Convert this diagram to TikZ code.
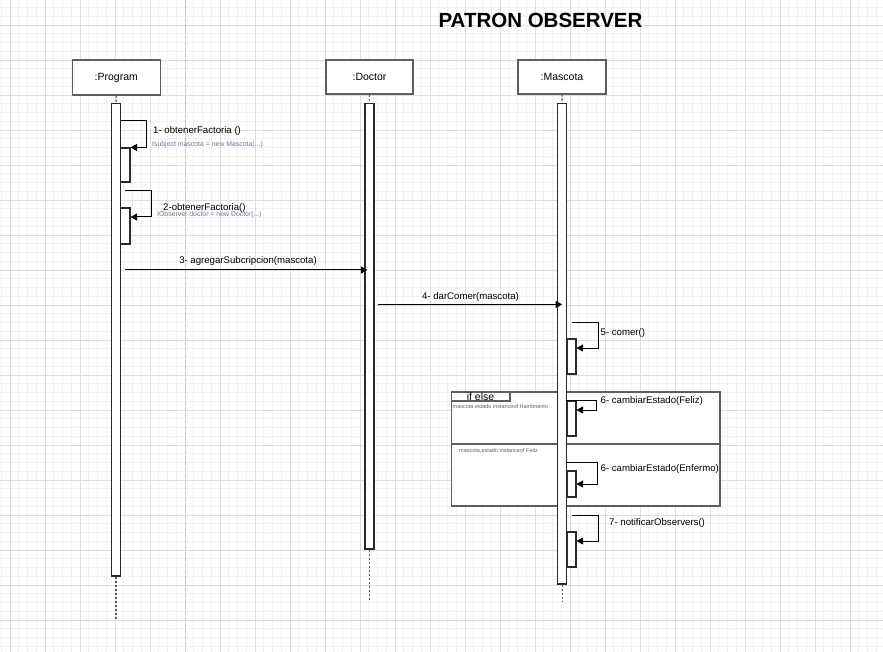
\documentclass[tikz,border=0pt]{standalone}
\usepackage{fontspec}
\setmainfont{Liberation Sans}
\usetikzlibrary{arrows.meta}
\definecolor{gridminor}{HTML}{F2F2F2}
\definecolor{gridmajor}{HTML}{DEDEDE}
\definecolor{boxline}{HTML}{5E5E5E}
\definecolor{actline}{HTML}{2A2A2A}
\definecolor{sublab}{HTML}{7D6C9C}
\definecolor{fragtext}{HTML}{606060}
\definecolor{pagebreak}{HTML}{C4C4C4}
\begin{document}
\begin{tikzpicture}[x=1pt,y=-1pt,
  lbox/.style={draw=boxline,line width=1.4pt,fill=white,minimum width=88pt,minimum height=35pt,inner sep=0pt,font=\fontsize{10.5}{12}\selectfont},
  act/.style={draw=actline,line width=1.1pt,fill=white,minimum width=9pt,inner sep=0pt},
  life/.style={draw=boxline,line width=1.3pt,dash pattern=on 2pt off 2pt},
  msg/.style={draw=black,line width=1pt,-{Triangle[length=6.5pt,width=7pt]}},
  lab/.style={inner sep=0pt,font=\fontsize{9.625}{11}\selectfont},
  sub/.style={inner sep=0pt,text=sublab,font=\fontsize{6.9}{8}\selectfont},
  fragtxt/.style={inner sep=0pt,text=fragtext,font=\fontsize{5.5}{6.5}\selectfont},
  fragbox/.style={draw=boxline,line width=1.3pt,fill=white,inner sep=0pt}
]
\useasboundingbox (0,0) rectangle (883,652);
\fill[white] (0,0) rectangle (883,652);
% grid
\foreach \i in {-2,...,102} {
  \draw[gridminor,line width=0.7pt] ({10+8.75*\i},0) -- ({10+8.75*\i},652);
}
\foreach \i in {-3,...,75} {
  \draw[gridminor,line width=0.7pt] (0,{25+8.75*\i}) -- (883,{25+8.75*\i});
}
\foreach \i in {-1,...,25} {
  \draw[gridmajor,line width=0.9pt] ({10+35*\i},0) -- ({10+35*\i},652);
}
\foreach \i in {-1,...,18} {
  \draw[gridmajor,line width=0.9pt] (0,{25+35*\i}) -- (883,{25+35*\i});
}
% page break
\draw[pagebreak,line width=1pt,dash pattern=on 3pt off 3pt] (185.7,0) -- (185.7,652);

% title
\node[inner sep=0pt,font=\fontsize{20.5}{24}\selectfont\bfseries] (title) at (540.5,20.5) {PATRON OBSERVER};

% combined fragment
\node[fragbox,minimum width=268.5pt,minimum height=114pt] (alt) at (585.75,449) {};
\draw[boxline,line width=1.3pt] (alt.west |- 0,444) -- (alt.east |- 0,444);
\node[draw=boxline,line width=1.3pt,inner sep=0pt,minimum width=58.5pt,minimum height=9pt] (tab) at (480.75,396.5) {};
\node[inner sep=0pt,font=\fontsize{10.5}{12}\selectfont] (tabtxt) at (480.5,396.5) {if else};
\node[fragtxt,anchor=west] (g1) at (452.5,407) {mascota.estado instanceof Hambriento};
\node[fragtxt,anchor=west] (g2) at (459,450.5) {mascota.estado instanceof Feliz};

% lifeline heads
\node[lbox] (prog) at (116.3,77.5) {:Program};
\node[lbox,minimum width=87pt,minimum height=34pt] (doc) at (369.5,77) {:Doctor};
\node[lbox,minimum height=34pt] (masc) at (562,77) {:Mascota};

% activations
\node[act,minimum height=472.5pt] (pa) at (116.1,339.75) {};
\node[act,minimum height=445.5pt] (da) at (369.5,326.25) {};
\node[act,minimum height=480.5pt] (ma) at (562.2,343.75) {};

\coordinate (pend) at (116.1,619);
\coordinate (dend) at (369.5,601);
\coordinate (mend) at (562.2,601);
\draw[life] (prog.south) -- (pa.north);
\draw[life] (doc.south) -- (da.north);
\draw[life] (masc.south) -- (ma.north);
\draw[life] (pa.south) -- (pend);
\draw[life] (da.south) -- (dend);
\draw[life] (ma.south) -- (mend);

% nested activations
\node[act,minimum width=9.5pt,minimum height=34pt] (p1) at (125.25,165) {};
\node[act,minimum width=9.5pt,minimum height=36pt] (p2) at (125.25,226) {};
\node[act,minimum height=35pt] (m5) at (571.5,356.5) {};
\node[act,minimum height=35pt] (m6a) at (571.5,418.5) {};
\node[act,minimum height=26pt] (m6b) at (571.5,484) {};
\node[act,minimum height=35pt] (m7) at (571.5,549.5) {};

% self calls
\draw[msg] (pa.east |- 0,121) -- ++(25.5,0) |- (p1.north east);
\draw[msg] (p2.center |- 0,191) -- ++(26,0) |- (p2.east |- 0,217);
\draw[msg] (m5.center |- 0,322) -- ++(26.5,0) |- (m5.east |- 0,348);
\draw[msg] (m6a.north west) -- ++(30,0) |- (m6a.east |- 0,410);
\draw[msg] (ma.east |- 0,462) -- ++(30,0) |- (m6b.east |- 0,484);
\draw[msg] (m7.center |- 0,515) -- ++(26.5,0) |- (m7.east |- 0,541);

% messages
\draw[msg] (p2.center |- 0,270) -- ([xshift=3pt]da.west |- 0,270);
\draw[msg] ([xshift=3.5pt]da.east |- 0,304.5) -- (ma.center |- 0,304.5);

% labels
\node[lab,anchor=west] (l1) at (153,131) {1- obtenerFactoria ()};
\node[sub,anchor=west] (s1) at (152,144.5) {Isubject mascota = new Mascota(...)};
\node[lab,anchor=west] (l2) at (163,208) {2-obtenerFactoria()};
\node[sub,anchor=west] (s2) at (157,215) {IObserver doctor = new Doctor(...)};
\node[lab] (l3) at (248,261) {3- agregarSubcripcion(mascota)};
\node[lab] (l4) at (470.5,297) {4- darComer(mascota)};
\node[lab,anchor=west] (l5) at (600.5,333) {5- comer()};
\node[lab,anchor=west] (l6a) at (600.5,401) {6- cambiarEstado(Feliz)};
\node[lab,anchor=west] (l6b) at (600.5,469) {6- cambiarEstado(Enfermo)};
\node[lab,anchor=west] (l7) at (609,523) {7- notificarObservers()};
\end{tikzpicture}
\end{document}
